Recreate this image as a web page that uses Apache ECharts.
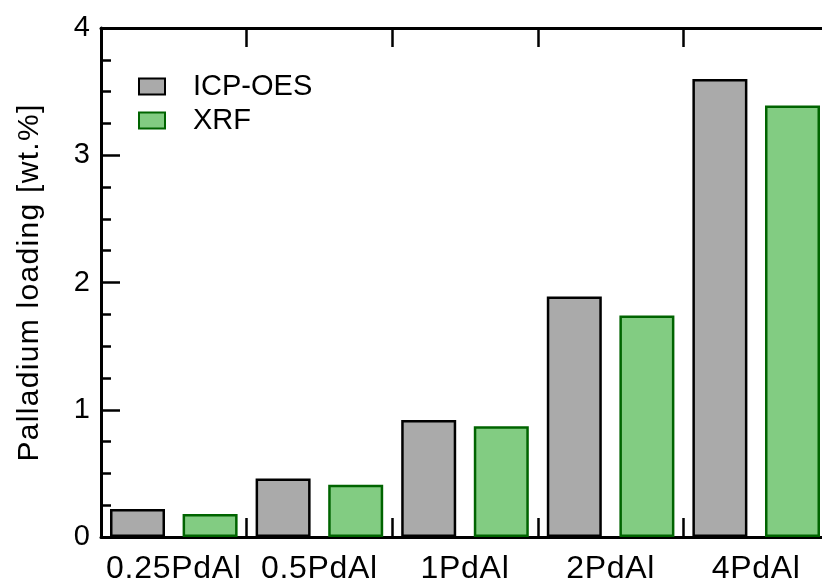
<!DOCTYPE html>
<html>
<head>
<meta charset="utf-8">
<script src="https://cdn.jsdelivr.net/npm/echarts@6/dist/echarts.min.js"></script>
<style>
  html, body { margin: 0; padding: 0; background: #fff; }
  #chart { width: 822px; height: 581px; }
</style>
</head>
<body>
<div id="chart"></div>
<script>
const categories = ['0.25PdAl', '0.5PdAl', '1PdAl', '2PdAl', '4PdAl'];
const icpValues = [0.22, 0.46, 0.92, 1.89, 3.60];
const xrfValues = [0.18, 0.41, 0.87, 1.74, 3.39];
const yTicks = { min: 0, max: 4, interval: 1 };

// per-size text spacing, to mimic the wider glyph spacing of the reference
(function () {
  const P = CanvasRenderingContext2D.prototype;
  const f = P.fillText, m = P.measureText;
  function sp(ctx) {
    const mm = /(\d+(?:\.\d+)?)px/.exec(ctx.font || '');
    const s = mm ? parseFloat(mm[1]) : 0;
    ctx.letterSpacing = s === 32 ? '0.7px' : (s === 30 ? '1.3px' : '0px');
  }
  P.fillText = function () { sp(this); return f.apply(this, arguments); };
  P.measureText = function () { sp(this); return m.apply(this, arguments); };
})();

const FONT = '"Liberation Sans", Arial, Helvetica, sans-serif';

const chart = echarts.init(document.getElementById('chart'), null, { renderer: 'canvas' });
chart.setOption({
  animation: false,
  backgroundColor: '#ffffff',
  textStyle: { fontFamily: FONT, color: '#000' },
  grid: { left: 101, right: -7, top: 28, bottom: 44, containLabel: false, outerBoundsMode: 'none' },
  legend: {
    left: 138, top: 72, orient: 'vertical', padding: 0,
    itemWidth: 26, itemHeight: 16, itemGap: 5,
    icon: 'rect',
    textStyle: { fontFamily: FONT, fontSize: 29, color: '#000', padding: [0, 0, 0, 23] },
    data: ['ICP-OES', 'XRF']
  },
  xAxis: [{
    type: 'category', data: categories, position: 'bottom',
    axisLine: { show: true, lineStyle: { color: '#000', width: 3 } },
    axisTick: { show: true, inside: true, length: 19, lineStyle: { color: '#000', width: 2.5 } },
    axisLabel: { fontFamily: FONT, fontSize: 32, color: '#000', margin: 16, interval: 0 },
    splitLine: { show: false }
  }, {
    type: 'category', data: categories, position: 'top',
    axisLine: { show: true, lineStyle: { color: '#000', width: 3 } },
    axisTick: { show: true, inside: true, length: 19, lineStyle: { color: '#000', width: 2.5 } },
    axisLabel: { show: false },
    splitLine: { show: false }
  }],
  yAxis: [{
    type: 'value', min: yTicks.min, max: yTicks.max, interval: yTicks.interval,
    name: 'Palladium loading [wt.%]', nameLocation: 'middle', nameGap: 56,
    nameTextStyle: { fontFamily: FONT, fontSize: 30, color: '#000' },
    axisLine: { show: true, lineStyle: { color: '#000', width: 3 } },
    axisTick: { show: true, inside: true, length: 19, lineStyle: { color: '#000', width: 2.5 } },
    minorTick: { show: true, splitNumber: 4, length: 10, lineStyle: { color: '#000', width: 2.5 } },
    axisLabel: { fontFamily: FONT, fontSize: 29, color: '#000', margin: 11 },
    splitLine: { show: false }
  }],
  series: [{
    name: 'ICP-OES', type: 'bar', data: icpValues,
    barWidth: 55, barGap: '32%',
    itemStyle: { color: '#aaaaaa', borderColor: '#000000', borderWidth: 2.5 }
  }, {
    name: 'XRF', type: 'bar', data: xrfValues,
    barWidth: 55, barGap: '32%',
    itemStyle: { color: '#82cc82', borderColor: '#006400', borderWidth: 2.5 }
  }]
});
</script>
</body>
</html>
